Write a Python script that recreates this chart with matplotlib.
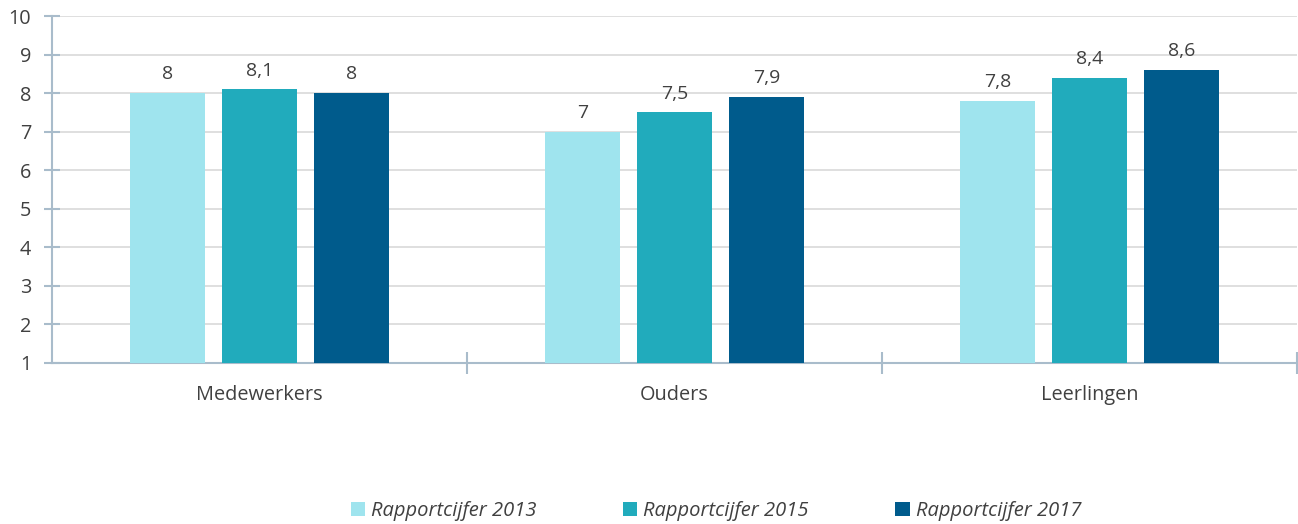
import numpy as np
import matplotlib.pyplot as plt
from matplotlib.ticker import FixedLocator

categories = ['Medewerkers', 'Ouders', 'Leerlingen']
series = ['Rapportcijfer 2013', 'Rapportcijfer 2015', 'Rapportcijfer 2017']
values_2013 = [8, 7, 7.8]
values_2015 = [8.1, 7.5, 8.4]
values_2017 = [8, 7.9, 8.6]
colors = ['#9fe4ee', '#21abbc', '#005b8c']

plt.rcParams['font.family'] = ['Open Sans', 'DejaVu Sans']

fig = plt.figure(figsize=(12.98, 5.24), dpi=100)
ax = fig.add_axes([52 / 1298, 161 / 524, 1245 / 1298, 347 / 524])

x = np.arange(len(categories))
width = 0.18
step = 0.222
bottom = 1
for i, (name, vals) in enumerate(zip(series, [values_2013, values_2015, values_2017])):
    pos = x + (i - 1) * step
    heights = np.array(vals) - bottom
    ax.bar(pos, heights, width, bottom=bottom, color=colors[i], label=name, zorder=3)
    for p, v in zip(pos, vals):
        ax.annotate(f'{v:g}'.replace('.', ','), (p, v), xytext=(0, 7),
                    textcoords='offset points', ha='center', va='bottom',
                    fontsize=14, color='#404040')

ax.set_xlim(-0.5, 2.5)
ax.set_ylim(1, 10)
ax.set_yticks(range(1, 11))
ax.yaxis.grid(True, color='#d9d9d9', linewidth=1.2, zorder=0)
ax.set_axisbelow(True)

axis_col = '#a9bccb'
for s in ['top', 'right']:
    ax.spines[s].set_visible(False)
for s in ['left', 'bottom']:
    ax.spines[s].set_color(axis_col)
    ax.spines[s].set_linewidth(1.5)

ax.set_xticks(x)
ax.set_xticklabels(categories)
ax.xaxis.set_minor_locator(FixedLocator([0.5, 1.5, 2.5]))
ax.tick_params(axis='x', which='major', length=0, pad=16, labelsize=14.3, labelcolor='#404040')
ax.tick_params(axis='x', which='minor', length=16, direction='inout', color=axis_col, width=1.5)
ax.tick_params(axis='y', length=12, direction='inout', color=axis_col, width=1.5,
               labelsize=14.3, labelcolor='#404040', pad=9)

fig.legend(loc='center', bbox_to_anchor=(716 / 1298, 13 / 524), ncol=3, frameon=False,
           prop={'style': 'italic', 'size': 14.5}, labelcolor='#404040',
           handlelength=0.7, handleheight=0.7, handletextpad=0.3, columnspacing=4.3)

fig.savefig('out.png', dpi=100)
